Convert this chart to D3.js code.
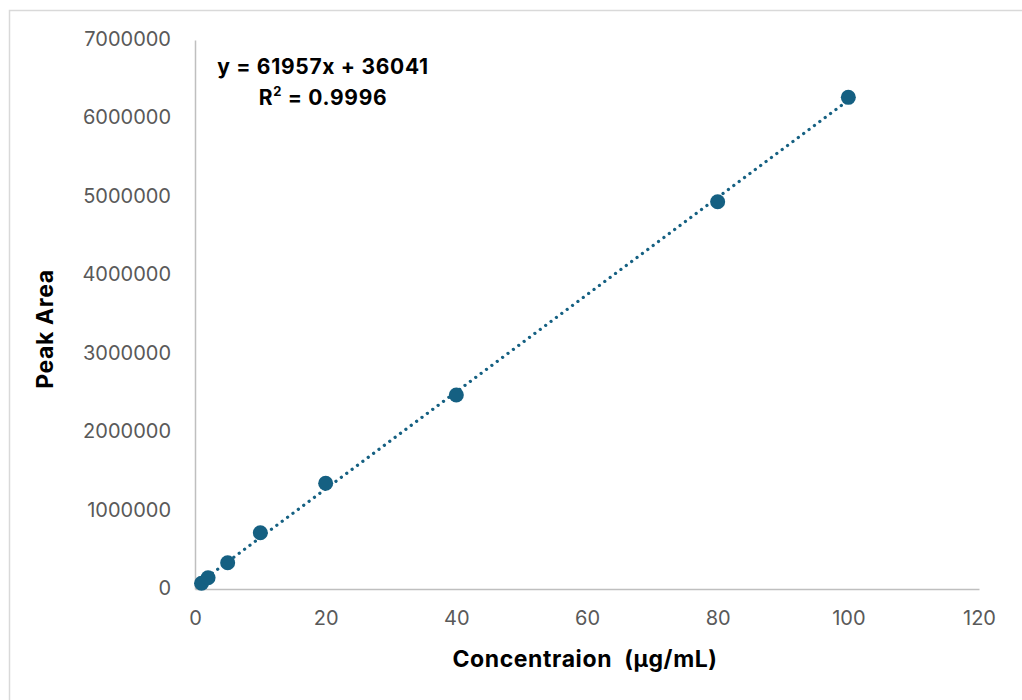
<!DOCTYPE html>
<html>
<head>
<meta charset="utf-8">
<script src="https://cdn.jsdelivr.net/npm/d3@7"></script>
<style>
  html, body { margin: 0; padding: 0; background: #fff; }
  svg { display: block; }
</style>
</head>
<body>
<svg id="chart" width="1022" height="700"></svg>
<script>
// Calibration standards: concentration (µg/mL) vs. measured peak area
const concentrations = [1, 2, 5, 10, 20, 40, 80, 100];
const peakAreas = [73000, 144000, 335000, 718000, 1348000, 2474000, 4938000, 6269000];

// Linear trendline coefficients and fit quality
const slope = 61957;
const intercept = 36041;
const rSquared = "0.9996";

const xTicks = [0, 20, 40, 60, 80, 100, 120];
const yTicks = [0, 1000000, 2000000, 3000000, 4000000, 5000000, 6000000, 7000000];

const xTitle = "Concentraion  (µg/mL)";
const yTitle = "Peak Area";

const svg = d3.select("#chart");
const colorMark = "#156082";
const tickColor = "#595959";
const axisColor = "#bfbfbf";
const font = "Inter, 'Liberation Sans', Arial, sans-serif";

// Chart frame
svg.append("rect")
  .attr("x", 9.5).attr("y", 10.5)
  .attr("width", 1030).attr("height", 720)
  .attr("fill", "#fff")
  .attr("stroke", "#d9d9d9").attr("stroke-width", 1.5);

const x = d3.scaleLinear().domain([0, 120]).range([195, 979]);
const y = d3.scaleLinear().domain([0, 7000000]).range([589, 40]);

// X axis
const xAxis = svg.append("g")
  .attr("transform", `translate(0,${y(0)})`)
  .call(d3.axisBottom(x).tickValues(xTicks).tickSize(0).tickFormat(d3.format("d")));
xAxis.select(".domain").attr("stroke", axisColor).attr("stroke-width", 1.5);
xAxis.selectAll("text")
  .attr("fill", tickColor)
  .attr("font-family", font)
  .attr("font-size", 20)
  .attr("dy", null)
  .attr("y", 31)
  .attr("dominant-baseline", "middle");

// Y axis
const yAxis = svg.append("g")
  .attr("transform", `translate(${x(0)},0)`)
  .call(d3.axisLeft(y).tickValues(yTicks).tickSize(0).tickFormat(d3.format("d")));
yAxis.select(".domain").attr("stroke", axisColor).attr("stroke-width", 1.5);
yAxis.selectAll("text")
  .attr("fill", tickColor)
  .attr("font-family", font)
  .attr("font-size", 20)
  .attr("dy", null)
  .attr("x", -24)
  .attr("dominant-baseline", "middle");

// Dotted linear trendline spanning the data range
const xMin = d3.min(concentrations), xMax = d3.max(concentrations);
svg.append("line")
  .attr("x1", x(xMin)).attr("y1", y(slope * xMin + intercept))
  .attr("x2", x(xMax)).attr("y2", y(slope * xMax + intercept))
  .attr("stroke", colorMark)
  .attr("stroke-width", 3.2)
  .attr("stroke-linecap", "round")
  .attr("stroke-dasharray", "0.1 6.6");

// Data markers
svg.append("g").selectAll("circle")
  .data(concentrations.map((c, i) => [c, peakAreas[i]]))
  .join("circle")
  .attr("cx", d => x(d[0]))
  .attr("cy", d => y(d[1]))
  .attr("r", 7.5)
  .attr("fill", colorMark);

// Trendline equation label
const eq = svg.append("text")
  .attr("font-family", font)
  .attr("font-weight", "bold")
  .attr("font-size", 21)
  .attr("letter-spacing", 0.7)
  .attr("fill", "#000")
  .attr("text-anchor", "middle");
eq.append("tspan").attr("x", 323).attr("y", 74)
  .text(`y = ${slope}x + ${intercept}`);
const r2 = eq.append("tspan").attr("x", 323).attr("y", 105);
r2.append("tspan").text("R");
r2.append("tspan").attr("font-size", 13).attr("dy", -9).text("2");
r2.append("tspan").attr("dy", 9).text(` = ${rSquared}`);

// Axis titles
svg.append("text")
  .attr("x", 585).attr("y", 667)
  .attr("text-anchor", "middle")
  .attr("font-family", font)
  .attr("font-weight", "bold")
  .attr("font-size", 23)
  .attr("letter-spacing", 0.6)
  .attr("fill", "#000")
  .style("white-space", "pre")
  .text(xTitle);

svg.append("text")
  .attr("transform", "translate(53,329) rotate(-90)")
  .attr("text-anchor", "middle")
  .attr("font-family", font)
  .attr("font-weight", "bold")
  .attr("font-size", 23)
  .attr("letter-spacing", 0.6)
  .attr("fill", "#000")
  .text(yTitle);
</script>
</body>
</html>
